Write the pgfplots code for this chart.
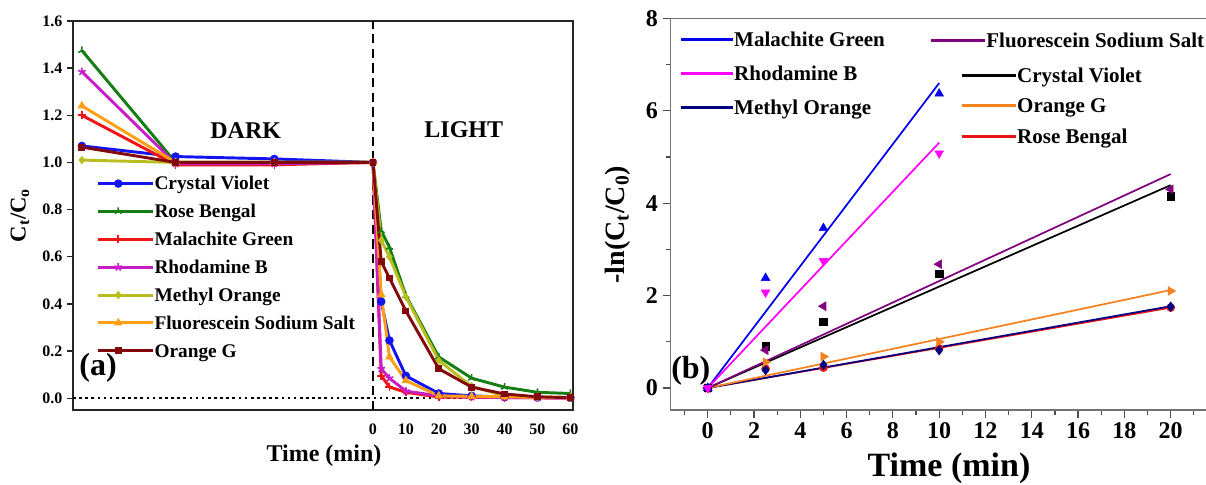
\documentclass[border=0pt]{standalone}
\usepackage{fontspec}
\setmainfont{Liberation Serif}
\usepackage{pgfplots}
\pgfplotsset{compat=1.18}
\usetikzlibrary{plotmarks}
\definecolor{cvblue}{RGB}{20,20,240}
\definecolor{rbgreen}{RGB}{20,125,20}
\definecolor{mgred}{RGB}{240,20,20}
\definecolor{rhbmag}{RGB}{200,30,200}
\definecolor{moolive}{RGB}{185,190,30}
\definecolor{fssorange}{RGB}{255,160,20}
\definecolor{ogmaroon}{RGB}{130,10,10}
\definecolor{bMG}{RGB}{0,0,235}
\definecolor{bRhB}{RGB}{255,0,255}
\definecolor{bMO}{RGB}{0,0,128}
\definecolor{bFSS}{RGB}{128,0,128}
\definecolor{bCV}{RGB}{0,0,0}
\definecolor{bOG}{RGB}{245,130,30}
\definecolor{bRB}{RGB}{235,20,20}
\newcommand{\fs}[1]{\fontsize{#1}{#1}\selectfont\bfseries}
\begin{document}
\begin{tikzpicture}
\useasboundingbox (0pt,0pt) rectangle (904.5pt,363.75pt);
% ---------------- Panel (a) ----------------
\begin{axis}[
  at={(54.75pt,56.25pt)}, anchor=south west,
  scale only axis, width=375pt, height=291.75pt,
  xmin=-91.2, xmax=60.8, ymin=-0.05, ymax=1.6,
  xtick={0,10,20,30,40,50,60},
  ytick={0,0.2,0.4,0.6,0.8,1.0,1.2,1.4,1.6},
  tick align=outside, xtick pos=bottom, ytick pos=left,
  major tick length=4.5pt,
  axis line style={line width=1.1pt, black!85},
  tick style={line width=1pt, black!85},
  xtick style={draw=none},
  /pgf/number format/assume math mode=true,
  yticklabel style={/pgf/number format/fixed, /pgf/number format/fixed zerofill, /pgf/number format/precision=1, font=\fs{12}},
  xticklabel style={font=\fs{12}, yshift=-2pt},
  xlabel={Time (min)}, ylabel={C\textsubscript{t}/C\textsubscript{o}},
  xlabel style={font=\fs{18}, at={(axis description cs:0.502,-0.118)}, anchor=center},
  ylabel style={font=\fs{17}, at={(axis description cs:-0.106,0.5)}, anchor=center},
  legend style={at={(axis description cs:0.046,0.604)}, anchor=north west, draw=none, fill=none, inner sep=0pt, row sep=8.5pt,
    nodes={inner sep=0pt, text height=11pt, text depth=1.4pt, font=\fs{14.5}}},
  legend cell align=left,
  legend image code/.code={\draw[mark repeat=2,mark phase=2,#1] plot coordinates {(0pt,0pt)(15.4pt,0pt)(30.8pt,0pt)}; \path (0pt,0pt) -- (41.5pt,0pt);},
]
\addplot[black, line width=1.8pt, dash pattern=on 7pt off 4pt, forget plot] coordinates {(0,-0.05)(0,1.6)};
\addplot[black, line width=1.8pt, dash pattern=on 2pt off 2.6pt, forget plot] coordinates {(-91.2,0)(60.8,0)};

\addplot[cvblue, line width=2.2pt, mark=*, mark size=2.8pt, mark options={line width=0.8pt}] coordinates {
(-88.5,1.07)(-60,1.025)(-30,1.015)(0,1.0)(2.5,0.41)(5,0.245)(10,0.095)(20,0.02)(30,0.01)(40,0.005)(50,0.003)(60,0.002)};
\addlegendentry{Crystal Violet}
\addplot[rbgreen, line width=2.2pt, mark=Mercedes star, mark size=3pt, mark options={line width=1.2pt}] coordinates {
(-88.5,1.475)(-60,1.0)(-30,1.0)(0,1.0)(2.5,0.71)(5,0.64)(10,0.435)(20,0.175)(30,0.085)(40,0.047)(50,0.025)(60,0.02)};
\addlegendentry{Rose Bengal}
\addplot[mgred, line width=2.2pt, mark=+, mark size=3pt, mark options={line width=1.2pt}] coordinates {
(-88.5,1.2)(-60,0.99)(-30,0.99)(0,1.0)(2.5,0.095)(5,0.048)(10,0.025)(20,0.005)(30,0.004)(40,0.003)(50,0.002)(60,0.001)};
\addlegendentry{Malachite Green}
\addplot[rhbmag, line width=2.2pt, mark=star, mark size=3pt, mark options={line width=1.2pt}] coordinates {
(-88.5,1.385)(-60,0.995)(-30,0.995)(0,1.0)(2.5,0.125)(5,0.085)(10,0.03)(20,0.01)(30,0.005)(40,0.003)(50,0.002)(60,0.001)};
\addlegendentry{Rhodamine B}
\addplot[moolive, line width=2.2pt, mark=diamond*, mark size=2.6pt, mark options={line width=0.8pt}] coordinates {
(-88.5,1.01)(-60,1.0)(-30,1.0)(0,1.0)(2.5,0.67)(5,0.6)(10,0.43)(20,0.16)(30,0.05)(40,0.01)(50,0.005)(60,0.003)};
\addlegendentry{Methyl Orange}
\addplot[fssorange, line width=2.2pt, mark=triangle*, mark size=3pt, mark options={line width=0.8pt}] coordinates {
(-88.5,1.24)(-60,1.0)(-30,1.0)(0,1.0)(2.5,0.44)(5,0.175)(10,0.075)(20,0.01)(30,0.008)(40,0.006)(50,0.004)(60,0.003)};
\addlegendentry{Fluorescein Sodium Salt}
\addplot[ogmaroon, line width=2.2pt, mark=square*, mark size=2.2pt, mark options={line width=0.8pt}] coordinates {
(-88.5,1.065)(-60,1.0)(-30,1.0)(0,1.0)(2.5,0.58)(5,0.51)(10,0.37)(20,0.125)(30,0.047)(40,0.018)(50,0.006)(60,0.002)};
\addlegendentry{Orange G}

\node[font=\fs{18}] at (axis cs:-38.7,1.133) {DARK};
\node[font=\fs{18}] at (axis cs:27.6,1.138) {LIGHT};
\node[font=\fs{24}] at (axis cs:-83.6,0.129) {(a)};
\end{axis}

% ---------------- Panel (b) ----------------
\begin{axis}[
  at={(503.0pt,56.25pt)}, anchor=south west,
  scale only axis, width=404.5pt, height=293.7pt,
  xmin=-1.6, xmax=21.7, ymin=-0.476, ymax=8,
  xtick={0,2,4,6,8,10,12,14,16,18,20},
  minor xtick={-1,1,3,5,7,9,11,13,15,17,19,21},
  ytick={0,2,4,6,8}, minor ytick={1,3,5,7},
  tick align=outside, xtick pos=bottom, ytick pos=left,
  major tick length=6pt, minor tick length=3.5pt,
  axis line style={black!55, line width=1pt},
  tick style={black!70, line width=0.9pt},
  /pgf/number format/assume math mode=true,
  ticklabel style={font=\fs{18}},
  xlabel={Time (min)},
  xlabel style={font=\fs{25.5}, at={(axis description cs:0.516,-0.148)}, anchor=center},
  ylabel={-ln(C\textsubscript{t}/C\textsubscript{0})},
  ylabel style={font=\fs{21}, at={(axis description cs:-0.098,0.473)}, anchor=center},
]
% fitted lines
\addplot[bRB, line width=1.3pt] coordinates {(0,0)(20,1.74)};
\addplot[bMO, line width=1.3pt] coordinates {(0,0)(20,1.77)};
\addplot[bOG, line width=1.3pt] coordinates {(0,0)(20,2.12)};
\addplot[bCV, line width=1.3pt] coordinates {(0,0)(20,4.39)};
\addplot[bFSS, line width=1.3pt] coordinates {(0,0)(20,4.63)};
\addplot[bMG, line width=1.3pt] coordinates {(0,0)(10,6.6)};
\addplot[bRhB, line width=1.3pt] coordinates {(0,0)(10,5.31)};
% data points
\addplot[only marks, bRB, mark=*, mark size=3pt] coordinates {(0,0)(2.5,0.42)(5,0.44)(10,0.86)(20,1.74)};
\addplot[only marks, bMO, mark=diamond*, mark size=3.6pt] coordinates {(0,0)(2.5,0.39)(5,0.5)(10,0.82)(20,1.76)};
\addplot[only marks, bOG, mark=triangle*, mark size=3.8pt, mark options={rotate=-90}] coordinates {(0,0)(2.5,0.56)(5,0.68)(10,1.0)(20,2.1)};
\addplot[only marks, bCV, mark=square*, mark size=2.8pt] coordinates {(0,0)(2.5,0.9)(5,1.43)(10,2.47)(20,4.15)};
\addplot[only marks, bFSS, mark=triangle*, mark size=3.8pt, mark options={rotate=90}] coordinates {(0,0)(2.5,0.82)(5,1.77)(10,2.68)(20,4.3)};
\addplot[only marks, bMG, mark=triangle*, mark size=3.8pt] coordinates {(0,0)(2.5,2.38)(5,3.46)(10,6.37)};
\addplot[only marks, bRhB, mark=triangle*, mark size=3.8pt, mark options={rotate=180}] coordinates {(0,0)(2.5,2.07)(5,2.75)(10,5.08)};
\node[font=\fs{24}] at (axis cs:-0.73,0.38) {(b)};
\end{axis}

% legends of panel (b)
\begin{axis}[
  at={(503.0pt,56.25pt)}, anchor=south west,
  scale only axis, width=404.5pt, height=293.7pt,
  xmin=0, xmax=1, ymin=0, ymax=1, hide axis,
  legend style={at={(axis description cs:0.0154,0.970)}, anchor=north west, draw=none, fill=none, inner sep=0pt, row sep=11.9pt,
    nodes={inner sep=0pt, text height=12pt, text depth=1.6pt, font=\fs{15.75}}},
  legend cell align=left,
  legend image code/.code={\draw[#1] (0pt,0pt) -- (35pt,0pt); \path (0pt,0pt) -- (39pt,0pt);},
]
\addlegendimage{bMG, line width=2.2pt}
\addlegendentry{Malachite Green}
\addlegendimage{bRhB, line width=2.2pt}
\addlegendentry{Rhodamine B}
\addlegendimage{bMO, line width=2.2pt}
\addlegendentry{Methyl Orange}
\end{axis}
\begin{axis}[
  at={(503.0pt,56.25pt)}, anchor=south west,
  scale only axis, width=404.5pt, height=293.7pt,
  xmin=0, xmax=1, ymin=0, ymax=1, hide axis,
  legend style={at={(axis description cs:0.480,0.968)}, anchor=north west, draw=none, fill=none, inner sep=0pt,
    nodes={inner sep=0pt, text height=12pt, text depth=1.6pt, font=\fs{15.75}}},
  legend cell align=left,
  legend image code/.code={\draw[#1] (0pt,0pt) -- (35.5pt,0pt); \path (0pt,0pt) -- (40.2pt,0pt);},
]
\addlegendimage{bFSS, line width=2.2pt}
\addlegendentry{Fluorescein Sodium Salt}
\end{axis}
\begin{axis}[
  at={(503.0pt,56.25pt)}, anchor=south west,
  scale only axis, width=404.5pt, height=293.7pt,
  xmin=0, xmax=1, ymin=0, ymax=1, hide axis,
  legend style={at={(axis description cs:0.5364,0.879)}, anchor=north west, draw=none, fill=none, inner sep=0pt, row sep=9.5pt,
    nodes={inner sep=0pt, text height=12pt, text depth=1.6pt, font=\fs{15.75}}},
  legend cell align=left,
  legend image code/.code={\draw[#1] (0pt,0pt) -- (36.2pt,0pt); \path (0pt,0pt) -- (40.5pt,0pt);},
]
\addlegendimage{bCV, line width=2.2pt}
\addlegendentry{Crystal Violet}
\addlegendimage{bOG, line width=2.2pt}
\addlegendentry{Orange G}
\addlegendimage{bRB, line width=2.2pt}
\addlegendentry{Rose Bengal}
\end{axis}
\end{tikzpicture}
\end{document}
